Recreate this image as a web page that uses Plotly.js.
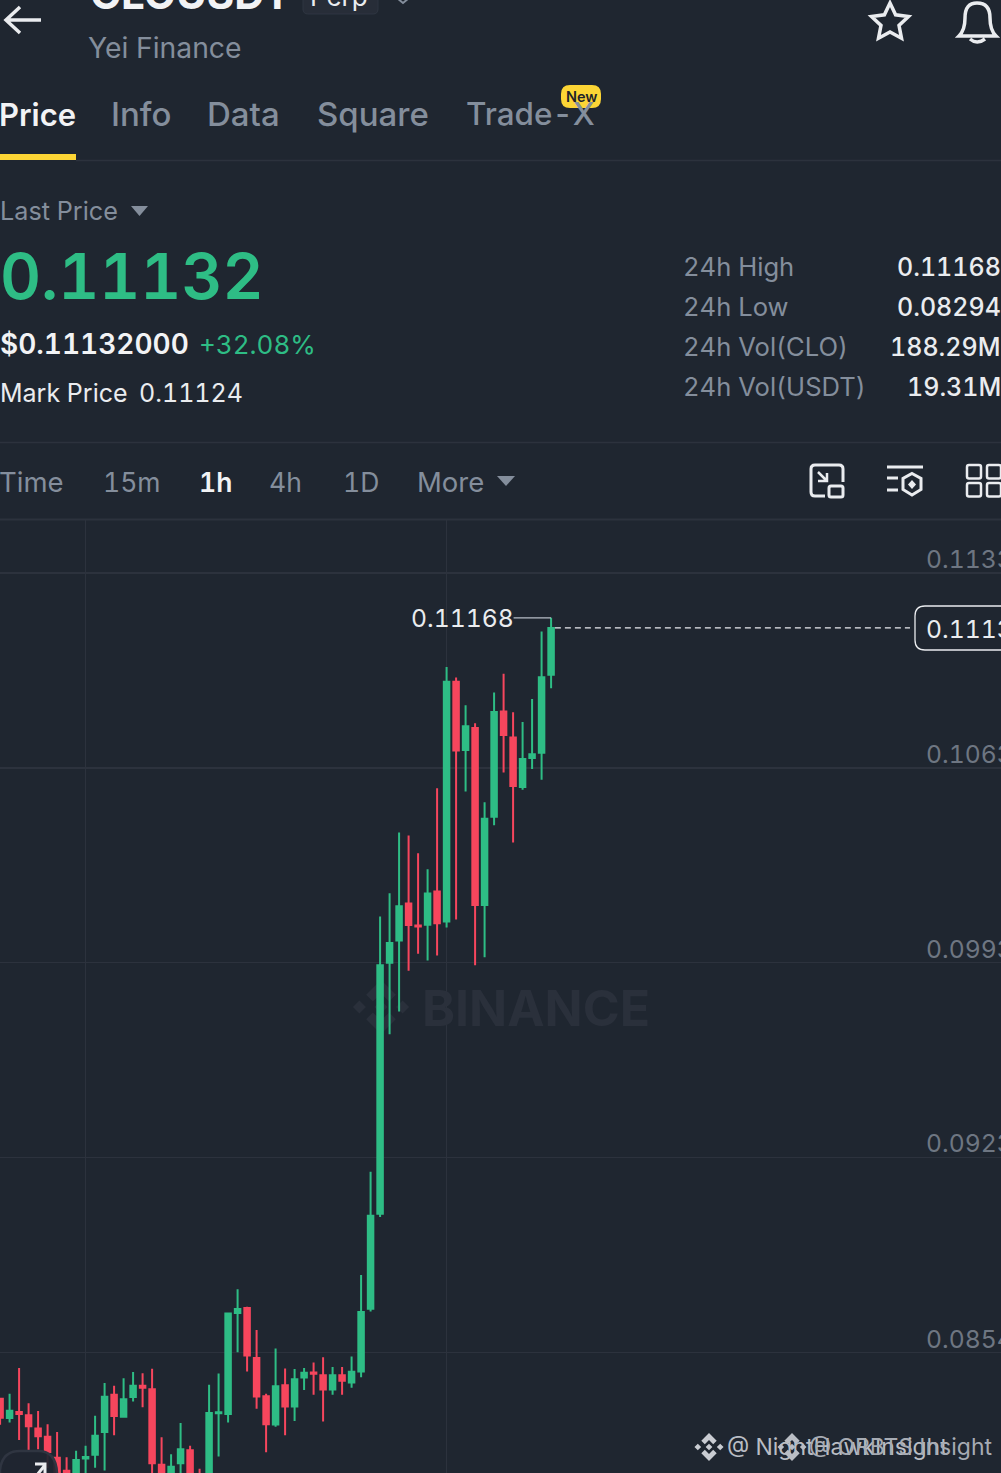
<!DOCTYPE html>
<html><head><meta charset="utf-8">
<script src="https://cdn.plot.ly/plotly-3.0.1.min.js"></script>
<style>html,body{margin:0;padding:0;background:#1f2630;overflow:hidden}#c{width:1001px;height:1473px}
svg text{font-feature-settings:"tnum" 1 !important}</style>
</head><body><div id="c"></div>
<script>
const candleIndex=[0,1,2,3,4,5,6,7,8,9,10,11,12,13,14,15,16,17,18,19,20,21,22,23,24,25,26,27,28,29,30,31,32,33,34,35,36,37,38,39,40,41,42,43,44,45,46,47,48,49,50,51,52,53,54,55,56,57,58];
const opens=[.08381,.08312,.08334,.08322,.08275,.08245,.08170,.08124,.08091,.08168,.08181,.08262,.08395,.08317,.08387,.08427,.08415,.08145,.08074,.08151,.08197,.08099,.08091,.08329,.08327,.08687,.08705,.08526,.08390,.08289,.08429,.08353,.08457,.08475,.08465,.08414,.08465,.08439,.08478,.08702,.09041,.09937,.10016,.10148,.10070,.10073,.10191,.10084,.10940,.10696,.10775,.10143,.10458,.10834,.10741,.10564,.10668,.10686,.10965];
const highs=[.08384,.08399,.08491,.08365,.08337,.08290,.08262,.08172,.08195,.08213,.08320,.08437,.08427,.08454,.08476,.08472,.08488,.08244,.08183,.08294,.08213,.08131,.08431,.08471,.08689,.08772,.08709,.08626,.08399,.08560,.08489,.08487,.08491,.08510,.08529,.08494,.08494,.08532,.08823,.09191,.10102,.10185,.10402,.10391,.10328,.10271,.10560,.10992,.10955,.10856,.10792,.10510,.10901,.10968,.10831,.10796,.10878,.11119,.11168];
const lows=[.08288,.08296,.08234,.08192,.08201,.08134,.08056,.08056,.08056,.08056,.08135,.08125,.08251,.08314,.08371,.08351,.08056,.08056,.08056,.08056,.08056,.08038,.08056,.08175,.08296,.08547,.08478,.08345,.08190,.08281,.08251,.08302,.08412,.08395,.08300,.08395,.08395,.08420,.08458,.08692,.09030,.09682,.09763,.09908,.09969,.09945,.09963,.10063,.10091,.10548,.09928,.09957,.10428,.10616,.10366,.10554,.10628,.10590,.10917];
const closes=[.08313,.08338,.08327,.08283,.08247,.08191,.08091,.08099,.08162,.08173,.08249,.08388,.08319,.08379,.08427,.08420,.08151,.08084,.08138,.08201,.08091,.08056,.08330,.08333,.08685,.08701,.08535,.08389,.08290,.08426,.08353,.08451,.08474,.08470,.08414,.08465,.08445,.08477,.08691,.09034,.09928,.10007,.10139,.10072,.10066,.10184,.10078,.10940,.10694,.10781,.10143,.10451,.10832,.10750,.10568,.10664,.10681,.10956,.11132];
const priceTicks=[.11328,.10632,.09937,.09242,.08546];
const priceTickLabels=["0.1133","0.1063","0.0993","0.0923","0.0854"];
const timeGridIndex=[9,47];
const lastPrice=.11132, lastPriceLabel="0.1113";
const highPrice=.11168, highPriceLabel="0.11168", highIndex=58;
const stats=[["24h High","0.11168"],["24h Low","0.08294"],["24h Vol(CLO)","188.29M"],["24h Vol(USDT)","19.31M"]];
const tabs=[["Price",0],["Info",112],["Data",208],["Square",318],["Trade-X",467]];
const intervals=[["Time",0],["15m",104],["1h",200],["4h",270],["1D",344],["More",418]];

const BG="#1f2630",GRID="#2c323d",GREY="#848e9c",WHITE="#eaecef",GREEN="#2ebd85",RED="#f6465d",DIM="#6e7682",YEL="#fcd535";
const W=1001,H=1473,F="Inter, sans-serif";
const px=x=>x/W, py=y=>1-y/H;
const ann=[],shp=[];
function T(text,x,y,size,color,opt={}){
  const right=opt.ax==='right';
  ann.push({text:text,xref:'paper',yref:'paper',x:px(right?x+1:x-2),y:py(y),xanchor:right?'right':'left',yanchor:'middle',showarrow:false,borderpad:0,
    font:{family:opt.family||F,size:size,color:color,weight:opt.weight||400}});
}
function P(d,o={}){
  const path=d.replace(/(-?[\d.]+)[ ,](-?[\d.]+)/g,(m,a,b)=>px(+a).toFixed(6)+","+py(+b).toFixed(6));
  shp.push({type:'path',xref:'paper',yref:'paper',path:path,layer:o.layer||'above',line:{color:o.c||'rgba(0,0,0,0)',width:o.w===undefined?0:o.w},fillcolor:o.f||'rgba(0,0,0,0)'});
}
function rr(a,b,c,d,r){return `M${a+r} ${b} L${c-r} ${b} Q${c} ${b} ${c} ${b+r} L${c} ${d-r} Q${c} ${d} ${c-r} ${d} L${a+r} ${d} Q${a} ${d} ${a} ${d-r} L${a} ${b+r} Q${a} ${b} ${a+r} ${b} Z`;}
function logo(cx,cy,r,col,layer){
  const q=(dx,s)=>`M${cx+dx} ${cy-s} L${cx+dx+s} ${cy} L${cx+dx} ${cy+s} L${cx+dx-s} ${cy} Z`;
  const chev=(s)=>`M${cx} ${cy+s*r} L${cx+.55*r} ${cy+s*.45*r} L${cx+.3*r} ${cy+s*.2*r} L${cx} ${cy+s*.5*r} L${cx-.3*r} ${cy+s*.2*r} L${cx-.55*r} ${cy+s*.45*r} Z`;
  P(q(0,.24*r)+" "+q(.8*r,.24*r)+" "+q(-.8*r,.24*r)+" "+chev(-1)+" "+chev(1),{f:col,layer:layer});
}

/* header */
T("CLOUSDT",91,-7,42,"#f2f3f5",{weight:700});
P(rr(303,-20,378,14,5),{c:"#2f3642",w:1,f:"#272d38"});
T("Perp",311,-4,26,WHITE);
P("M397 -2 L403 3 L409 -2",{c:GREY,w:2});
P("M41 20 L7 20 M20 7 L6 20 L20 33",{c:WHITE,w:3.5});
T("Yei Finance",89,47.5,28.3,GREY);
(function(){const cx=890,cy=22.5,R=19.5,r=9.5;let d="";for(let i=0;i<10;i++){const a=-Math.PI/2+i*Math.PI/5,q=i%2?r:R;d+=(i?"L":"M")+(cx+q*Math.cos(a)).toFixed(1)+" "+(cy+q*Math.sin(a)).toFixed(1)+" ";}P(d+"Z",{c:WHITE,w:3.5});})();
P("M959 36 Q965 30 965 18 Q965 3 977 3 Q990 3 990 18 Q990 30 996 36 Z M970 39 Q977 45 985 39",{c:WHITE,w:3.5});
tabs.forEach((t,i)=>T(t[0],t[1],114,[31,33,33,33,31.4][i],i==0?"#f2f3f5":GREY,{weight:i==0?600:500}));
P(`M0 154 L76 154 L76 160 L0 160 Z`,{f:YEL});
P("M76 160.5 L1001 160.5",{c:GRID,w:1.5});
P(rr(561,85,601,108,9),{f:YEL});
T("New",567,97,14.5,"#1e2329",{weight:600});

/* price block */
T("Last Price",1,211,25.2,GREY);
P("M131 206 L148 206 L139.5 216 Z",{f:GREY});
T("0.11132",1,276,63.5,GREEN,{weight:600});
T("$0.11132000",1,344,28,"#f2f3f5",{weight:600});
T("+32.08%",200,344,26,GREEN);
T("Mark Price",1,393,25,WHITE);
T("0.11124",140,393,25,WHITE);
stats.forEach((s,i)=>{T(s[0],684,267+40*i-.7,25.6,GREY);T(s[1],1001,267+40*i,25,WHITE,{ax:'right',weight:500});});
P("M0 442.5 L1001 442.5",{c:GRID,w:1.5});

/* toolbar */
intervals.forEach((t,i)=>T(t[0],t[1],482,/\d/.test(t[0])?26.5:27.5,i==2?"#f2f3f5":GREY,{weight:i==2?600:400}));
P("M497 476 L515 476 L506 486 Z",{f:GREY});
P("M825 496 L815 496 Q811 496 811 492 L811 469 Q811 465 815 465 L839 465 Q843 465 843 469 L843 482",{c:WHITE,w:3});
P(rr(829,486,843,497,2),{c:WHITE,w:3});
P("M818 472 L827 481 M818 481 L827 481 L827 473",{c:WHITE,w:2.5});
P("M887 467 L923 467 M887 478 L898 478 M887 490 L898 490",{c:WHITE,w:3});
P("M912 473.5 L921 478.5 L921 489.5 L912 495 L903 489.5 L903 478.5 Z",{c:WHITE,w:3});
P("M912 480 L916 484.5 L912 489 L908 484.5 Z",{f:WHITE});
[[967,465],[987,465],[967,483],[987,483]].forEach(a=>P(rr(a[0],a[1],a[0]+14,a[1]+13.5,2),{c:WHITE,w:2.5}));
P("M0 519.5 L1001 519.5",{c:GRID,w:2});

/* watermark */
logo(381,1007,27,"#2a303b",'below');
T("BINANCE",423,1008,50,"#2a303b",{weight:700});

/* price axis labels */
priceTicks.forEach((v,i)=>{ann.push({text:priceTickLabels[i],xref:'paper',yref:'y',x:px(925),y:v,yshift:14,xanchor:'left',yanchor:'middle',showarrow:false,borderpad:0,font:{family:F,size:24.7,color:DIM}});});

/* current price label and line */
shp.push({type:'line',xref:'x',yref:'y',x0:highIndex+.4,x1:(910-.1)/9.5,y0:lastPrice,y1:lastPrice,line:{color:WHITE,width:1.3,dash:'6px,4px'},layer:'above'});
P(rr(915,606,1012,650,10),{c:WHITE,w:1.3,f:BG});
ann.push({text:lastPriceLabel,xref:'paper',yref:'y',x:px(925),y:lastPrice,yshift:-1,xanchor:'left',yanchor:'middle',showarrow:false,borderpad:0,font:{family:F,size:24.7,color:WHITE}});
/* high label */
ann.push({text:highPriceLabel,xref:'paper',yref:'y',x:px(410),y:highPrice,xanchor:'left',yanchor:'middle',showarrow:false,borderpad:0,font:{family:F,size:24.7,color:WHITE}});
shp.push({type:'line',xref:'x',yref:'y',x0:513.5/9.5,x1:highIndex,y0:highPrice,y1:highPrice,line:{color:"#b7bdc6",width:1.3},layer:'above'});

/* corner button */
P("M0 1480 L0 1470 Q2 1451 20 1451 L38 1451 Q56 1451 57 1473 L57 1480 Z",{c:"#2f3541",w:2.5,f:"rgba(31,38,48,.93)"});
P("M33 1480 L45 1465 M35 1464 L45 1464 L45 1474",{c:WHITE,w:3});

/* footer watermarks */
logo(709,1447,14,"#c9ccd2");
T("@ NightHawkInsight",728,1447,23,"#b9bdc4");
logo(792,1447,14,"#b9bdc4");
T("@ ORBTS Insight",810,1447,23,"#a6abb3");

const trace={type:'candlestick',x:candleIndex,open:opens,high:highs,low:lows,close:closes,whiskerwidth:0,hoverinfo:'skip',
  increasing:{line:{color:GREEN,width:2},fillcolor:GREEN},decreasing:{line:{color:RED,width:2},fillcolor:RED}};
const layout={width:W,height:H,margin:{l:0,r:0,t:0,b:0},paper_bgcolor:BG,plot_bgcolor:BG,showlegend:false,boxgap:.42,boxgroupgap:0,
  xaxis:{domain:[0,1],range:[-.01,105.36],type:'linear',rangeslider:{visible:false},tickmode:'array',tickvals:timeGridIndex,showticklabels:false,ticks:'',showgrid:true,gridcolor:GRID,gridwidth:1.5,zeroline:false,showline:false},
  yaxis:{domain:[0,953/1473],range:[.08116,.11517],tickmode:'array',tickvals:priceTicks,showticklabels:false,ticks:'',showgrid:true,gridcolor:GRID,gridwidth:1.5,zeroline:false,showline:false},
  annotations:ann,shapes:shp};
Plotly.newPlot('c',[trace],layout,{staticPlot:true,displayModeBar:false});
</script></body></html>
